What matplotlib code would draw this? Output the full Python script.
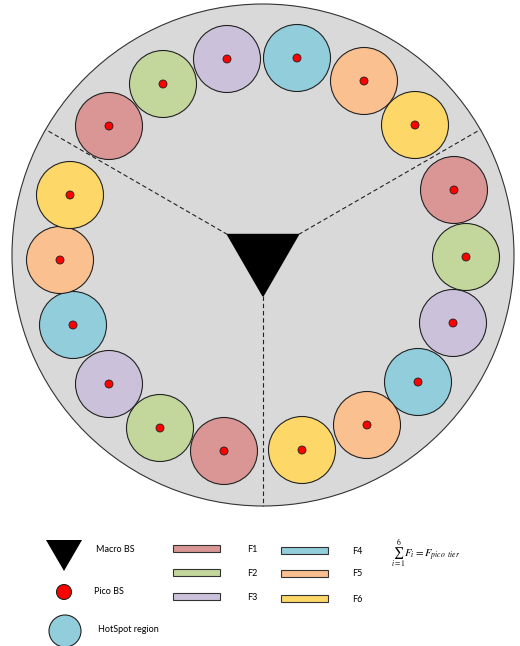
"""Macro cell with three sectors of pico hotspots, frequency reuse F1..F6."""

import matplotlib
matplotlib.use("Agg")
import matplotlib.pyplot as plt
import numpy as np
from matplotlib.patches import Circle, Polygon, Rectangle

plt.rcParams["font.family"] = ["Lato", "DejaVu Sans"]
plt.rcParams["mathtext.fontset"] = "stix"

# --- data (pixel coordinates, y grows downward) ---
freq_labels = ["F1", "F2", "F3", "F4", "F5", "F6"]
freq_colors = ["#d99694", "#c3d69b", "#ccc1da", "#92cddc", "#fac090", "#fdd868"]

# hotspot centres per sector, listed F1 -> F6
top_x = [109, 163, 227, 297, 364, 415]
top_y = [126, 84, 59, 58, 81, 125]
right_x = [454, 466, 453, 418, 367, 302]
right_y = [190, 257, 323, 382, 425, 450]
left_x = [224, 160, 109, 73, 60, 70]
left_y = [451, 428, 384, 325, 260, 195]

macro_center = (263, 255)
macro_radius = 251
sector_angles = [150, 30, 270]  # degrees, direction of the sector borders

hotspot_radius = 33.5
pico_radius = 4

fig = plt.figure(figsize=(5.2, 6.46), dpi=100)
ax = fig.add_axes([0, 0, 1, 1])
ax.set_xlim(0, 520)
ax.set_ylim(646, 0)
ax.set_aspect("equal")
ax.axis("off")

cx, cy = macro_center
ax.add_patch(Circle(macro_center, macro_radius, facecolor="#d9d9d9", edgecolor="#333333", lw=0.8, zorder=1))

# sector borders from the triangle corners to the cell edge
tri_r = 41
for a in sector_angles:
    ux, uy = np.cos(np.radians(a)), -np.sin(np.radians(a))
    ax.plot([cx + tri_r * ux, cx + macro_radius * ux], [cy + tri_r * uy, cy + macro_radius * uy],
            color="#222222", lw=0.8, ls=(0, (4, 2.5)), zorder=2)

tri = [(cx + tri_r * np.cos(np.radians(a)), cy - tri_r * np.sin(np.radians(a))) for a in sector_angles]
ax.add_patch(Polygon(tri, closed=True, facecolor="black", edgecolor="black", zorder=3))

for xs, ys in [(top_x, top_y), (right_x, right_y), (left_x, left_y)]:
    for x, y, c in zip(xs, ys, freq_colors):
        ax.add_patch(Circle((x, y), hotspot_radius, facecolor=c, edgecolor="#222222", lw=0.8, zorder=4))
        ax.add_patch(Circle((x, y), pico_radius, facecolor="#ff0000", edgecolor="#222222", lw=0.6, zorder=5))

# --- legend ---
fs = 6.5
ax.add_patch(Polygon([(46, 540), (82, 540), (64, 571)], closed=True, facecolor="black", zorder=3))
ax.text(96, 550, "Macro BS", fontsize=fs, va="center", ha="left")
ax.add_patch(Circle((64, 592), 7.5, facecolor="#ff0000", edgecolor="#222222", lw=0.8))
ax.text(94, 592, "Pico BS", fontsize=fs, va="center", ha="left")
ax.add_patch(Circle((65, 631), 16, facecolor=freq_colors[3], edgecolor="#222222", lw=0.8))
ax.text(98, 630, "HotSpot region", fontsize=fs, va="center", ha="left")

bar_x = [173, 173, 173, 281, 281, 281]
bar_y = [548, 572, 596, 550, 573, 598]
lab_x = [247, 247, 247, 352, 352, 352]
for bx, by, lx, c, lab in zip(bar_x, bar_y, lab_x, freq_colors, freq_labels):
    ax.add_patch(Rectangle((bx, by - 3.5), 47, 7, facecolor=c, edgecolor="#333333", lw=0.8))
    ax.text(lx, by + 1, lab, fontsize=fs, va="center", ha="left")

ax.text(391, 554, r"$\sum_{i=1}^{6} F_i = F_{pico\ \ tier}$", fontsize=7.8, va="center", ha="left")

fig.savefig("out.png", dpi=100)
